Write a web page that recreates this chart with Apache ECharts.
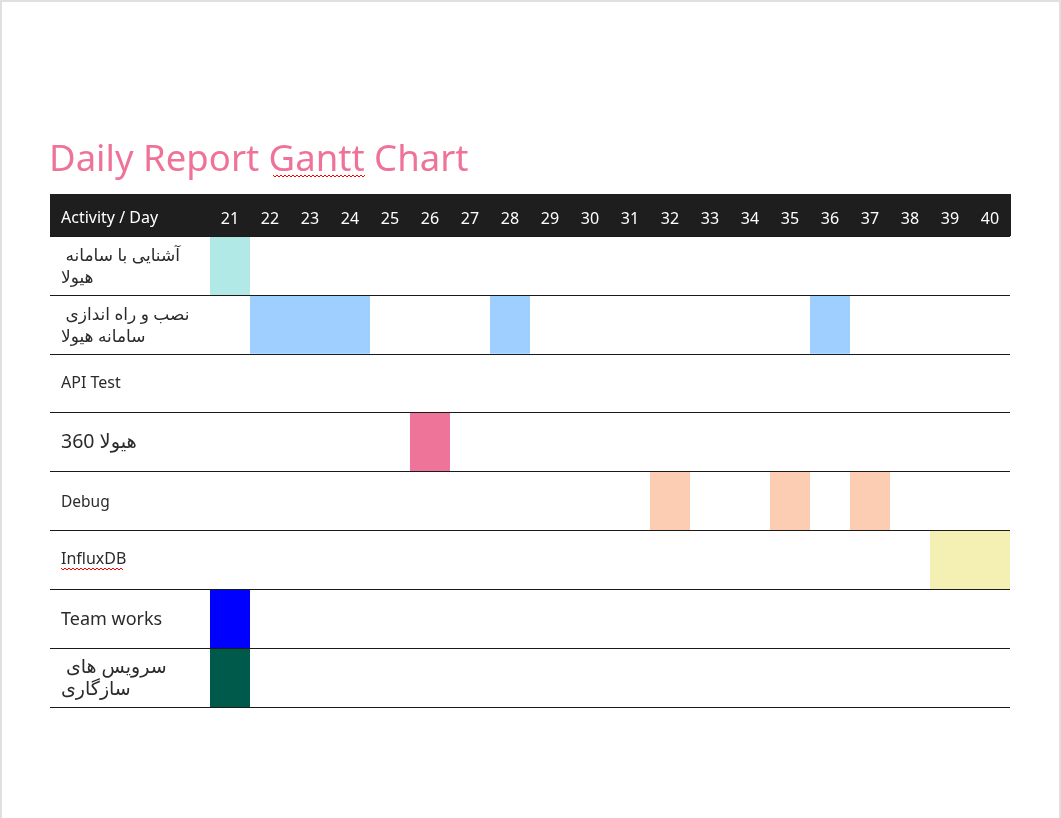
<!DOCTYPE html>
<html>
<head>
<meta charset="utf-8">
<script src="https://cdn.jsdelivr.net/npm/echarts@6/dist/echarts.min.js"></script>
<style>
  html, body { margin: 0; padding: 0; background: #e0e0e0; width: 1061px; height: 818px; overflow: hidden; }
  #chart { position: absolute; left: 2px; top: 2px; width: 1057px; height: 818px; background: #ffffff; }
</style>
</head>
<body>
<div id="chart"></div>
<script>
// ---- data ----
const titleText = 'Daily Report Gantt Chart';
const headerLabel = 'Activity / Day';
const days = [21, 22, 23, 24, 25, 26, 27, 28, 29, 30, 31, 32, 33, 34, 35, 36, 37, 38, 39, 40];
const activities = [
  ' آشنایی با سامانه\nهیولا',
  ' نصب و راه اندازی\nسامانه هیولا',
  'API Test',
  '360 هیولا',
  'Debug',
  'InfluxDB',
  'Team works',
  ' سرویس های\nسازگاری'
];
// [activity index, first day, last day]
const tasks = [
  [0, 21, 21],
  [1, 22, 24],
  [1, 28, 28],
  [1, 36, 36],
  [3, 26, 26],
  [4, 32, 32],
  [4, 35, 35],
  [4, 37, 37],
  [5, 39, 40],
  [6, 21, 21],
  [7, 21, 21]
];
const rowColors = ['#b0e9e6', '#9fcfff', '#9fcfff', '#ee7499', '#fdcdb3', '#f4f0b4', '#0000ff', '#005a4b'];

// ---- layout ----
const G = { left: 48, top: 234, width: 960, height: 471 };
const HEADER_H = 42;
const rowStyle = ['p', 'p', 'm', 'h', 's', 'm', 'b', 'q'];

const chart = echarts.init(document.getElementById('chart'), null, { renderer: 'canvas' });

function squiggle(x0, x1, y) {
  const pts = [];
  let up = true;
  for (let x = x0; x <= x1; x += 2) { pts.push([x, up ? y : y + 2]); up = !up; }
  return { type: 'polyline', shape: { points: pts }, style: { stroke: '#ff0000', lineWidth: 1, fill: null }, z: 100 };
}

const FF = 'Noto Sans, DejaVu Sans';
const TXT = '#2b2b2b';

const option = {
  backgroundColor: '#ffffff',
  animation: false,
  title: {
    text: titleText,
    left: G.left - 1,
    top: 140,
    padding: 0,
    textStyle: { color: '#ef7399', fontSize: 36.5, fontWeight: 'normal', fontFamily: 'Noto Sans' }
  },
  grid: { left: G.left, top: G.top, width: G.width, height: G.height, containLabel: false },
  xAxis: {
    type: 'value',
    position: 'top',
    min: days[0] - 4.5,
    max: days[days.length - 1] + 0.5,
    axisLine: { show: false },
    axisTick: { show: false },
    splitLine: { show: false },
    axisLabel: {
      customValues: days,
      color: '#ffffff',
      fontSize: 16,
      fontFamily: 'Noto Sans',
      margin: 17,
      verticalAlign: 'middle',
      formatter: v => String(v)
    },
    z: 10
  },
  yAxis: {
    type: 'category',
    data: activities,
    inverse: true,
    axisLine: { show: false },
    axisTick: { show: false },
    splitLine: { show: true, lineStyle: { color: '#1a1a1a', width: 1 } },
    axisLabel: {
      inside: true,
      margin: 11,
      align: 'left',
      color: TXT,
      fontFamily: FF,
      formatter: (v, i) => {
        const st = rowStyle[i];
        return v.split('\n').map(l => '{' + st + '|' + l + '}').join('\n');
      },
      rich: {
        b: { fontSize: 18, lineHeight: 22, color: TXT, fontFamily: FF, padding: [3, 0, 0, 0] },
        h: { fontSize: 19.5, lineHeight: 22, color: TXT, fontFamily: FF, padding: [1, 0, 0, 0] },
        m: { fontSize: 16, lineHeight: 22, color: TXT, fontFamily: FF },
        s: { fontSize: 15.5, lineHeight: 22, color: TXT, fontFamily: FF, padding: [3, 0, 0, 0] },
        p: { fontSize: 17, lineHeight: 22, color: TXT, fontFamily: FF, padding: [3, 0, 0, 0] },
        q: { fontSize: 19, lineHeight: 22, color: TXT, fontFamily: FF, padding: [2, 0, 0, 0] }
      }
    },
    z: 10
  },
  graphic: [
    {
      type: 'rect',
      shape: { x: G.left, y: G.top - HEADER_H, width: G.width + 1, height: HEADER_H },
      style: { fill: '#1e1e1e' },
      z: 0, zlevel: 0, silent: true
    },
    {
      type: 'text',
      x: G.left + 11,
      y: G.top - HEADER_H / 2 + 3,
      style: { text: headerLabel, fill: '#ffffff', fontSize: 16, fontFamily: 'Noto Sans', verticalAlign: 'middle', align: 'left' },
      z: 20
    },
    squiggle(271, 364, 173),
    squiggle(59, 122, 566)
  ],
  series: [{
    type: 'custom',
    encode: { x: [1, 2], y: 0 },
    data: tasks,
    renderItem: (params, api) => {
      const row = api.value(0);
      const s = api.value(1), e = api.value(2);
      const p1 = api.coord([s - 0.5, row]);
      const p2 = api.coord([e + 0.5, row]);
      const h = api.size([0, 1])[1];
      return {
        type: 'rect',
        shape: { x: p1[0], y: p1[1] - h / 2, width: p2[0] - p1[0], height: h },
        style: { fill: rowColors[row] }
      };
    },
    z: 5
  }]
};
chart.setOption(option);
</script>
</body>
</html>
